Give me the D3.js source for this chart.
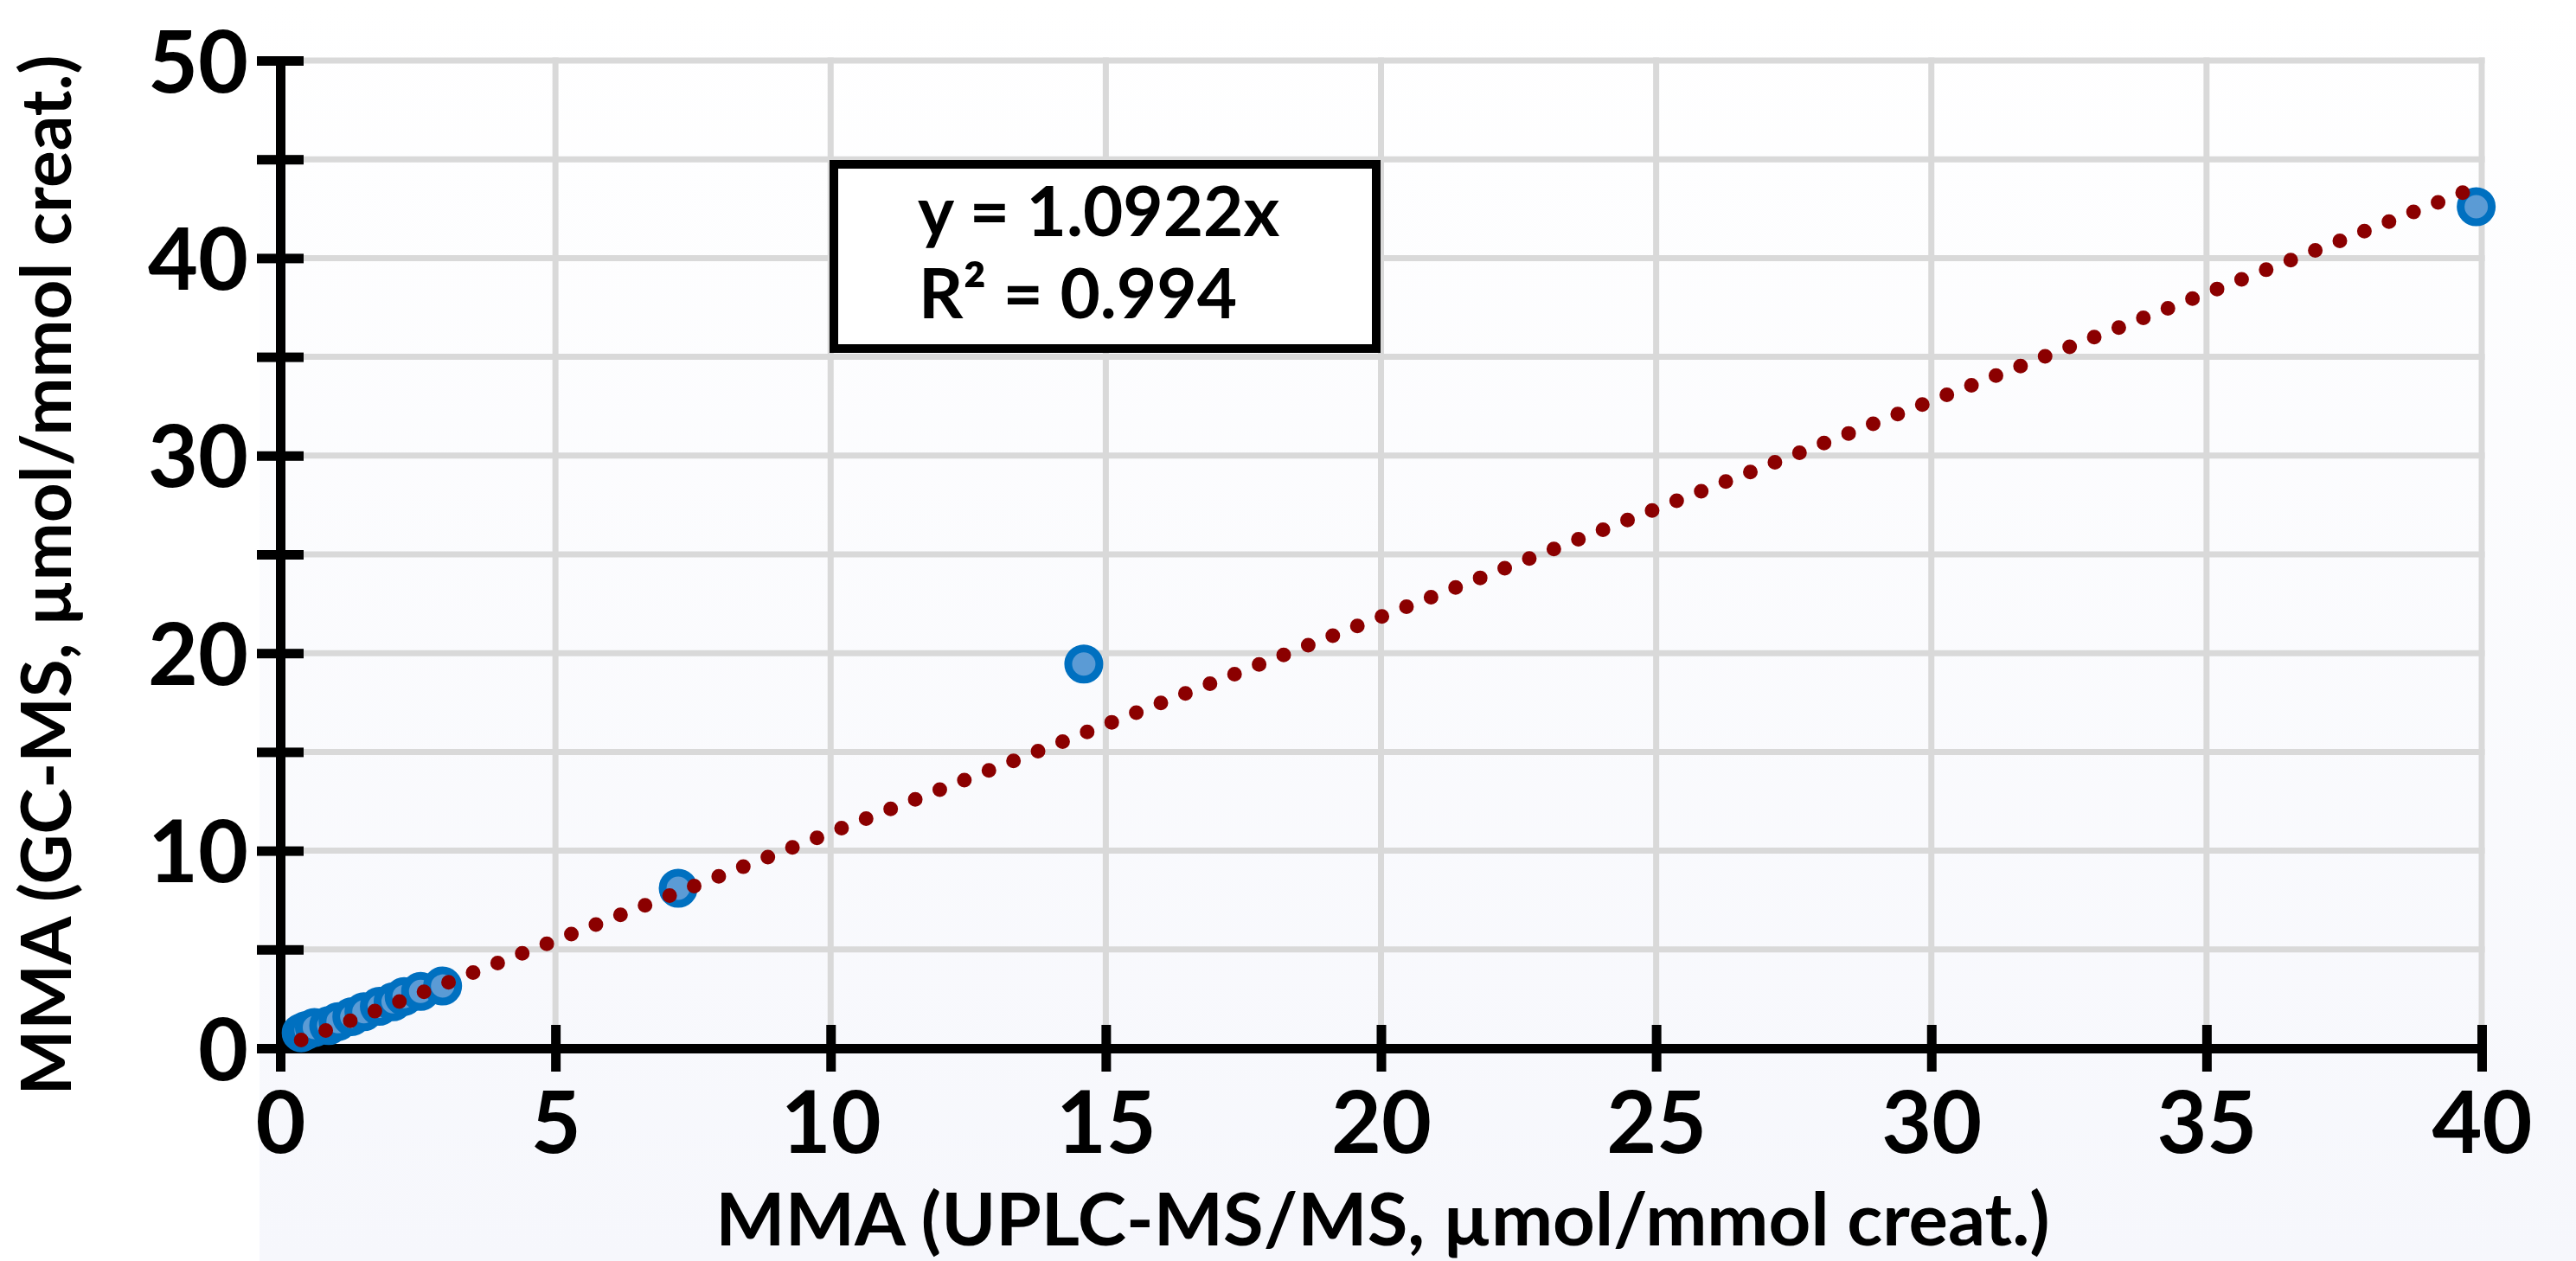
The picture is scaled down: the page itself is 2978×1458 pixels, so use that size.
<!DOCTYPE html>
<html>
<head>
<meta charset="utf-8">
<script src="https://cdn.jsdelivr.net/npm/d3@7"></script>
<style>
  html, body { margin: 0; padding: 0; background: #ffffff; }
  svg { display: block; }
  text { font-family: Lato, "Open Sans", sans-serif; font-weight: 700; }
</style>
</head>
<body>
<svg id="chart" width="2978" height="1458"></svg>
<script>
// ---- data ----
const uplcValues = [0.38, 0.47, 0.62, 0.88, 1.05, 1.3, 1.52, 1.8, 2.05, 2.25, 2.55, 2.95, 7.23, 14.6, 39.9];
const gcmsValues = [0.78, 0.9, 1.05, 1.15, 1.35, 1.6, 1.85, 2.12, 2.35, 2.62, 2.88, 3.15, 8.1, 19.45, 42.6];
const xTickValues = [0, 5, 10, 15, 20, 25, 30, 35, 40];
const yTickValues = [0, 10, 20, 30, 40, 50];
const yAllTickValues = [0, 5, 10, 15, 20, 25, 30, 35, 40, 45, 50];
const xGridValues = [5, 10, 15, 20, 25, 30, 35, 40];
const yGridValues = [5, 10, 15, 20, 25, 30, 35, 40, 45, 50];
const xDomain = [0, 40];
const yDomain = [0, 50];
const trendSlope = 1.0922;
const trendR2 = 0.994;
const xTitle = "MMA (UPLC-MS/MS, µmol/mmol creat.)";
const yTitle = "MMA (GC-MS, µmol/mmol creat.)";

(function () {
// ---- layout ----
const svg = d3.select("#chart");
const mLeft = 324, mRight = 2869, mTop = 70, mBottom = 1212;
const x = d3.scaleLinear().domain(xDomain).range([mLeft, mRight]);
const y = d3.scaleLinear().domain(yDomain).range([mBottom, mTop]);

// background gradient
const defs = svg.append("defs");
const grad = defs.append("linearGradient").attr("id", "bg").attr("x1", 0).attr("y1", 0).attr("x2", 0).attr("y2", 1);
grad.append("stop").attr("offset", "0%").attr("stop-color", "#ffffff");
grad.append("stop").attr("offset", "100%").attr("stop-color", "#f6f7fc");
svg.append("rect").attr("x", 300).attr("y", 0).attr("width", 2978 - 300).attr("height", 1458).attr("fill", "url(#bg)");

// gridlines
const grid = svg.append("g").attr("stroke", "#d9d9d9").attr("stroke-width", 7);
grid.selectAll("line.v").data(xGridValues).join("line").attr("class", "v")
  .attr("x1", d => x(d)).attr("x2", d => x(d)).attr("y1", y(0)).attr("y2", y(50) - 3.5);
grid.selectAll("line.h").data(yGridValues).join("line").attr("class", "h")
  .attr("x1", x(0)).attr("x2", x(40) + 3.5).attr("y1", d => y(d)).attr("y2", d => y(d));

// axes
const tickLen = 27, axisW = 11;
function styleAxis(g) {
  g.select(".domain").attr("stroke", "#000").attr("stroke-width", axisW);
  g.selectAll(".tick line").attr("stroke", "#000").attr("stroke-width", axisW);
  g.selectAll(".tick text").attr("fill", "#000").style("font-size", "100px")
    .style("font-family", "Lato, 'Open Sans', sans-serif").style("font-weight", 700);
}
const xAxisOut = svg.append("g").attr("transform", `translate(0,${mBottom})`)
  .call(d3.axisBottom(x).tickValues(xTickValues).tickSize(tickLen).tickSizeOuter(0).tickPadding(22).tickFormat(d3.format("d")));
styleAxis(xAxisOut);
xAxisOut.selectAll(".tick text").attr("dy", "0.72em");
const xAxisIn = svg.append("g").attr("transform", `translate(0,${mBottom})`)
  .call(d3.axisBottom(x).tickValues(xTickValues).tickSize(-tickLen).tickSizeOuter(0).tickFormat(""));
styleAxis(xAxisIn);

const yAxisOut = svg.append("g").attr("transform", `translate(${mLeft},0)`)
  .call(d3.axisLeft(y).tickValues(yAllTickValues).tickSize(tickLen).tickSizeOuter(0).tickPadding(10)
    .tickFormat(d => yTickValues.includes(d) ? d3.format("d")(d) : ""));
styleAxis(yAxisOut);
yAxisOut.selectAll(".tick text").attr("dy", "0.36em");
const yAxisIn = svg.append("g").attr("transform", `translate(${mLeft},0)`)
  .call(d3.axisLeft(y).tickValues(yAllTickValues).tickSize(-tickLen).tickSizeOuter(0).tickFormat(""));
styleAxis(yAxisIn);

// data points
const pts = uplcValues.map((v, i) => ({ x: v, y: gcmsValues[i] }));
svg.append("g").selectAll("circle").data(pts).join("circle")
  .attr("cx", d => x(d.x)).attr("cy", d => y(d.y)).attr("r", 18)
  .attr("fill", "#5b9bd5").attr("stroke", "#0070c0").attr("stroke-width", 9);

// linear trendline through origin (dotted)
const xMin = d3.min(uplcValues), xMax = d3.max(uplcValues);
const trend = [xMin, xMax].map(v => ({ x: v, y: trendSlope * v }));
svg.append("path").datum(trend)
  .attr("d", d3.line().x(d => x(d.x)).y(d => y(d.y)))
  .attr("fill", "none").attr("stroke", "#8b0000").attr("stroke-width", 17)
  .attr("stroke-linecap", "round").attr("stroke-dasharray", "0 30.5");

// equation box
const box = svg.append("g");
box.append("rect").attr("x", 964).attr("y", 190).attr("width", 627).attr("height", 213)
  .attr("fill", "#ffffff").attr("stroke", "#000").attr("stroke-width", 10);
box.append("text").attr("x", 1061).attr("y", 273).style("font-size", "80px")
  .text(`y = ${trendSlope.toFixed(4)}x`);
box.append("text").attr("x", 1062).attr("y", 368).style("font-size", "80px")
  .text(`R² = ${trendR2.toFixed(3)}`);

// axis titles
svg.append("text").attr("x", (mLeft + mRight) / 2 + 2).attr("y", 1440)
  .attr("text-anchor", "middle").style("font-size", "85px").text(xTitle);
svg.append("text").attr("transform", `translate(82,665) rotate(-90)`)
  .attr("text-anchor", "middle").style("font-size", "80px").text(yTitle);
})();
</script>
</body>
</html>
